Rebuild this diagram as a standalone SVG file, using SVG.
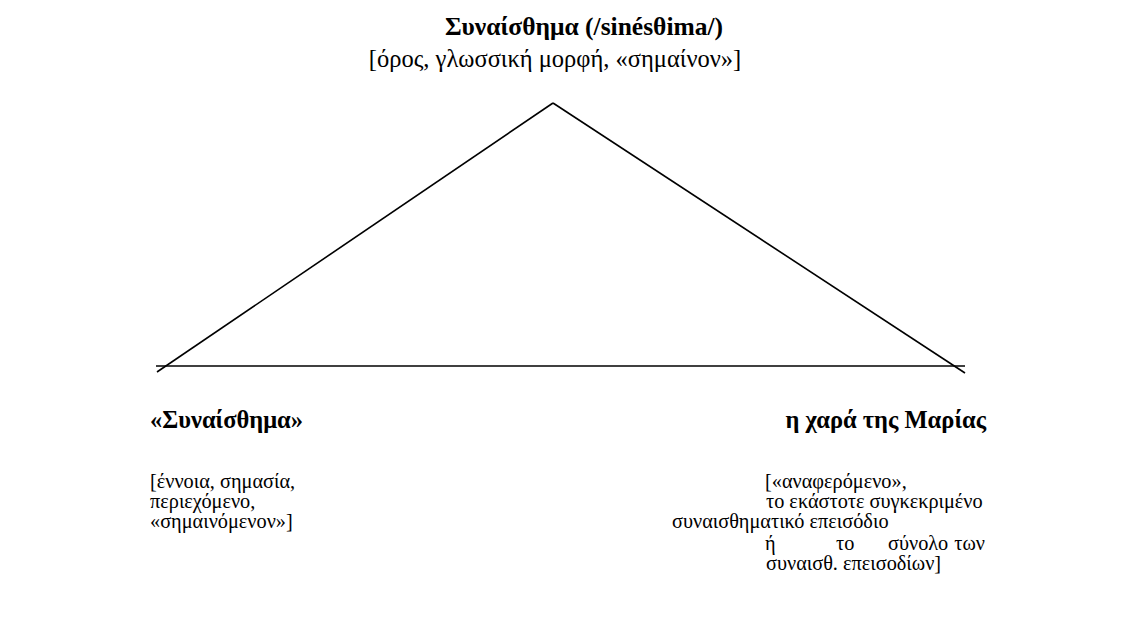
<svg xmlns="http://www.w3.org/2000/svg" width="1121" height="617" viewBox="0 0 1121 617">
  <style>
    .t { font-family: 'Liberation Serif', 'Times New Roman', serif; font-size: 20.3px; fill: #000; }
    .h { font-family: 'Liberation Serif', 'Times New Roman', serif; font-size: 25.5px; font-weight: bold; fill: #000; }
    .sub { font-size: 24.5px; }
    .lbl { font-size: 24.5px; }
    .ln { stroke: #000; stroke-width: 1.6; fill: none; }
  </style>
  <rect width="1121" height="617" fill="#fff"/>
  <!-- semiotic triangle -->
  <g id="connectors">
    <line class="ln" x1="553" y1="103" x2="157" y2="372"/>
    <line class="ln" x1="553" y1="103" x2="965" y2="373"/>
    <line class="ln" x1="156" y1="366" x2="965" y2="366"/>
  </g>
  <!-- apex: the term -->
  <g id="node-term">
    <text class="h" x="584" y="35" text-anchor="middle">Συναίσθημα (/sinésθima/)</text>
    <text class="t sub" x="555" y="67" text-anchor="middle">[όρος, γλωσσική μορφή, «σημαίνον»]</text>
  </g>
  <!-- left corner: the concept -->
  <g id="node-concept">
    <text class="h lbl" x="150" y="428">«Συναίσθημα»</text>
    <text class="t" x="150" y="488">[έννοια, σημασία,</text>
    <text class="t" x="150" y="508">περιεχόμενο,</text>
    <text class="t" x="150" y="528">«σημαινόμενον»]</text>
  </g>
  <!-- right corner: the referent -->
  <g id="node-referent">
    <text class="h lbl" x="986" y="428" text-anchor="end">η χαρά της Μαρίας</text>
    <text class="t" x="765" y="488">[«αναφερόμενο»,</text>
    <text class="t" x="766" y="508">το εκάστοτε συγκεκριμένο</text>
    <text class="t" x="672" y="528">συναισθηματικό επεισόδιο</text>
    <text class="t" x="765" y="550">ή</text>
    <text class="t" x="836" y="550">το</text>
    <text class="t" x="888" y="550">σύνολο</text>
    <text class="t" x="985" y="550" text-anchor="end">των</text>
    <text class="t" x="766" y="570">συναισθ. επεισοδίων]</text>
  </g>
</svg>
